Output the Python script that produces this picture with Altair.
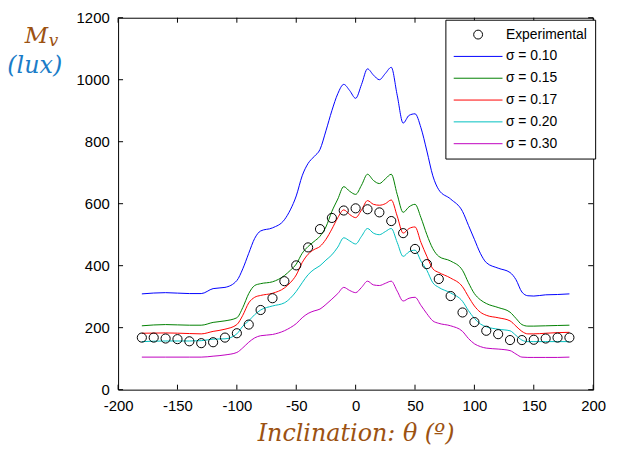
import altair as alt
import pandas as pd

# ---- data ----
theta_grid = [-180, -160, -140, -130, -120, -110, -100, -95, -90, -85, -80, -70, -60, -55,
              -50, -45, -40, -35, -30, -25, -20, -15, -10, -5, 0, 5, 10, 15, 20, 25, 30, 35,
              40, 45, 50, 55, 60, 65, 70, 80, 90, 95, 100, 105, 110, 120, 130, 135, 140, 145,
              150, 160, 170, 180]

sigma_010 = [309, 313, 310, 310, 326, 330, 352, 390, 440, 488, 512, 522, 548, 580,
             625, 690, 730, 752, 775, 835, 900, 955, 985, 965, 940, 985, 1035, 1015, 1000, 1020, 1040, 950,
             860, 885, 890, 845, 770, 690, 645, 615, 575, 530, 485, 440, 410, 392, 378, 355, 315, 303,
             302, 306, 307, 309]
sigma_015 = [206, 210, 208, 208, 217, 222, 232, 265, 310, 336, 342, 348, 368, 385,
             405, 440, 462, 478, 495, 525, 575, 615, 655, 640, 630, 660, 695, 675, 665, 680, 695, 630,
             572, 590, 598, 555, 500, 455, 430, 415, 385, 345, 310, 290, 278, 265, 250, 230, 210, 205,
             205, 206, 207, 208]
sigma_017 = [182, 183, 181, 180, 188, 195, 210, 240, 280, 298, 304, 311, 328, 345,
             370, 410, 437, 452, 462, 485, 518, 555, 580, 565, 555, 580, 610, 598, 595, 600, 612, 560,
             505, 520, 525, 475, 430, 390, 378, 360, 332, 300, 270, 250, 240, 232, 222, 205, 188, 180,
             180, 182, 184, 185]
sigma_020 = [155, 157, 157, 158, 163, 164, 180, 205, 222, 242, 257, 270, 280, 295,
             317, 345, 371, 388, 400, 418, 435, 460, 490, 480, 470, 495, 520, 505, 500, 510, 520, 475,
             430, 445, 450, 415, 385, 345, 330, 312, 285, 255, 230, 212, 203, 195, 190, 175, 160, 155,
             155, 155, 155, 155]
sigma_030 = [105, 105, 105, 105, 108, 112, 120, 135, 153, 167, 174, 178, 190, 200,
             213, 232, 246, 254, 260, 275, 292, 310, 330, 320, 313, 330, 350, 338, 336, 343, 350, 318,
             286, 295, 298, 272, 245, 222, 214, 206, 188, 165, 148, 139, 134, 131, 126, 115, 105, 104,
             104, 104, 104, 105]

exp_theta = list(range(-180, 181, 10))
exp_values = [168, 168, 165, 163, 156, 150, 153, 168, 182, 210, 257, 295, 350, 401, 459, 518, 554, 578,
              585, 582, 572, 544, 505, 454, 405, 357, 302, 249, 218, 190, 179, 160, 160, 161, 165, 168, 168]

series_names = ["Experimental", "σ = 0.10", "σ = 0.15", "σ = 0.17", "σ = 0.20", "σ = 0.30"]
series_colors = ["black", "#0000FF", "#008000", "#FF0000", "#00BFBF", "#BF00BF"]
line_path = "M-5.5,0H5.5"
series_shapes = ["circle", line_path, line_path, line_path, line_path, line_path]

x_ticks = [-200, -150, -100, -50, 0, 50, 100, 150, 200]
y_ticks = [0, 200, 400, 600, 800, 1000, 1200]

W, H = 479, 375

# ---- tables ----
curves = [sigma_010, sigma_015, sigma_017, sigma_020, sigma_030]
rows = []
for name, vals in zip(series_names[1:], curves):
    for t, v in zip(theta_grid, vals):
        rows.append({"theta": t, "value": v, "series": name})
lines_df = pd.DataFrame(rows)
exp_df = pd.DataFrame({"theta": exp_theta, "value": exp_values, "series": "Experimental"})

xs = alt.Scale(domain=[-200, 200], nice=False, zero=False)
ys = alt.Scale(domain=[0, 1200], nice=False)
cs = alt.Scale(domain=series_names, range=series_colors)
ss = alt.Scale(domain=series_names, range=series_shapes)

x_axis = alt.Axis(values=x_ticks, title="Inclination: θ (º)", titleFont="DejaVu Serif",
                  titleFontStyle="italic", titleFontWeight="normal", titleFontSize=24,
                  titleColor="#9C5212", titlePadding=8, labelPadding=9,
                  labelExpr="toString(datum.value)", labelFlush=False)
y_axis = alt.Axis(values=y_ticks, title=None, labelPadding=9,
                  labelExpr="toString(datum.value)", labelFlush=False)

def make_legend():
    return alt.Legend(
        title=None, orient="none", legendX=330, legendY=2, fillColor="white",
        strokeColor="black", padding=8, labelFontSize=14, labelFont="Liberation Sans",
        labelColor="black", symbolStrokeWidth=1, symbolSize=80, rowPadding=8,
        labelOffset=21, symbolOffset=18)

lines = alt.Chart(lines_df).mark_line(interpolate="monotone", strokeWidth=1).encode(
    x=alt.X("theta:Q", scale=xs, axis=x_axis),
    y=alt.Y("value:Q", scale=ys, axis=y_axis),
    color=alt.Color("series:N", scale=cs, legend=make_legend()),
    detail="series:N",
)

points = alt.Chart(exp_df).mark_point(filled=False, size=85, strokeWidth=1, opacity=1).encode(
    x=alt.X("theta:Q", scale=xs),
    y=alt.Y("value:Q", scale=ys),
    color=alt.Color("series:N", scale=cs, legend=make_legend()),
    shape=alt.Shape("series:N", scale=ss, legend=make_legend()),
)

xt_df = pd.DataFrame({"v": x_ticks})
yt_df = pd.DataFrame({"v": y_ticks})
tick_bottom = alt.Chart(xt_df).mark_rule(color="black").encode(
    x=alt.X("v:Q", scale=xs), y=alt.value(H), y2=alt.value(H - 5))
tick_top = alt.Chart(xt_df).mark_rule(color="black").encode(
    x=alt.X("v:Q", scale=xs), y=alt.value(0), y2=alt.value(5))
tick_left = alt.Chart(yt_df).mark_rule(color="black").encode(
    y=alt.Y("v:Q", scale=ys), x=alt.value(0), x2=alt.value(5))
tick_right = alt.Chart(yt_df).mark_rule(color="black").encode(
    y=alt.Y("v:Q", scale=ys), x=alt.value(W), x2=alt.value(W - 5))

title_df1 = pd.DataFrame({"t": ["M"]})
title_df1b = pd.DataFrame({"t": ["v"]})
title_df2 = pd.DataFrame({"t": ["(lux)"]})
ytitle_m = alt.Chart(title_df1).mark_text(font="DejaVu Serif", fontStyle="italic", fontSize=23,
                                          color="#9C5212", align="left", baseline="alphabetic").encode(
    text="t:N", x=alt.value(-94), y=alt.value(25))
ytitle_v = alt.Chart(title_df1b).mark_text(font="DejaVu Serif", fontStyle="italic", fontSize=17,
                                           color="#9C5212", align="left", baseline="alphabetic").encode(
    text="t:N", x=alt.value(-70), y=alt.value(29))
ytitle_lux = alt.Chart(title_df2).mark_text(font="DejaVu Serif", fontStyle="italic", fontSize=24,
                                            color="#1A7CC8", align="center", baseline="alphabetic").encode(
    text="t:N", x=alt.value(-84), y=alt.value(56))

chart = alt.layer(
    lines, points, tick_bottom, tick_top, tick_left, tick_right, ytitle_m, ytitle_v, ytitle_lux
).resolve_scale(color="shared", shape="shared").properties(
    width=W, height=H, autosize="none", background="white",
    padding={"left": 111, "top": 8, "right": 20, "bottom": 55},
).configure_view(stroke="black", strokeWidth=1).configure_axis(
    domain=False, ticks=False, grid=False, labelFont="Liberation Sans", labelFontSize=15,
    labelColor="black"
)

chart.save("out.html", embed_options={"renderer": "svg", "actions": False})
